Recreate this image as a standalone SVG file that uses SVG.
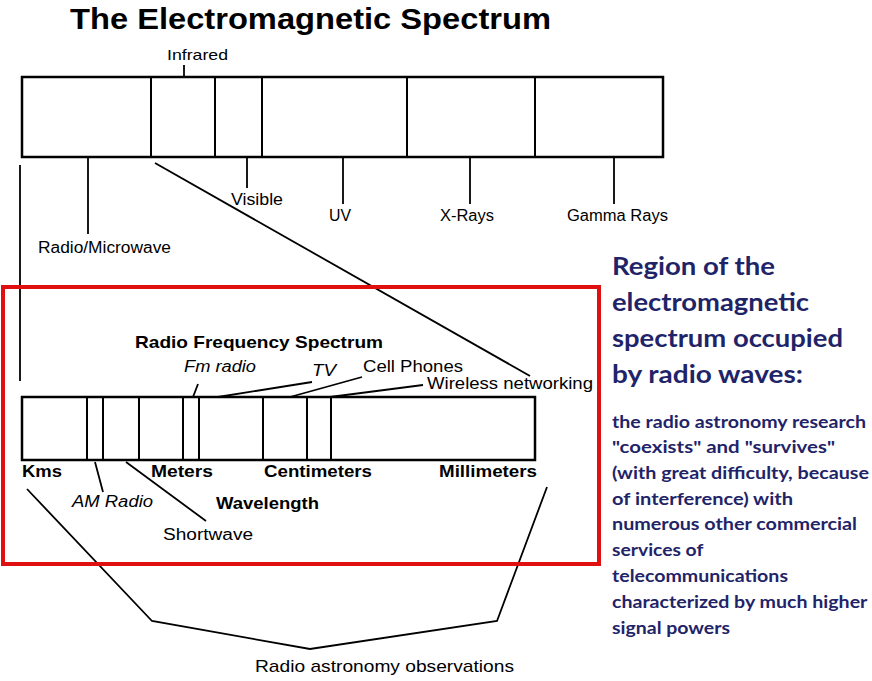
<svg xmlns="http://www.w3.org/2000/svg" width="872" height="681" viewBox="0 0 872 681">
<style>
.t{font-family:"Liberation Sans",Arial,sans-serif;fill:#000}
.b{font-weight:bold}
.i{font-style:italic}
.box{fill:#fff;stroke:#000;stroke-width:2.5}
.ln{fill:none;stroke:#000;stroke-width:1.8}
.dv{stroke:#000;stroke-width:2}
.r{font-family:Lato,"Open Sans",sans-serif;font-weight:bold;fill:#1f2468}
</style>
<rect width="872" height="681" fill="#fff"/>
<text class="t b" x="70" y="29" font-size="30" textLength="481" lengthAdjust="spacingAndGlyphs">The Electromagnetic Spectrum</text>

<g id="em-spectrum">
<rect class="box" x="22" y="77" width="641" height="80"/>
<line class="dv" x1="151" y1="77" x2="151" y2="157"/>
<line class="dv" x1="215" y1="77" x2="215" y2="157"/>
<line class="dv" x1="262" y1="77" x2="262" y2="157"/>
<line class="dv" x1="407" y1="77" x2="407" y2="157"/>
<line class="dv" x1="535" y1="77" x2="535" y2="157"/>
</g>

<g id="labels-top">
<text class="t" x="167" y="60" font-size="15" textLength="61" lengthAdjust="spacingAndGlyphs">Infrared</text>
<text class="t" x="38" y="253" font-size="16" textLength="133" lengthAdjust="spacingAndGlyphs">Radio/Microwave</text>
<text class="t" x="231" y="205" font-size="16" textLength="52" lengthAdjust="spacingAndGlyphs">Visible</text>
<text class="t" x="329" y="221" font-size="16" textLength="22" lengthAdjust="spacingAndGlyphs">UV</text>
<text class="t" x="440" y="221" font-size="16" textLength="54" lengthAdjust="spacingAndGlyphs">X-Rays</text>
<text class="t" x="567" y="221" font-size="16" textLength="101" lengthAdjust="spacingAndGlyphs">Gamma Rays</text>
</g>

<g id="connectors">
<line class="ln" x1="184" y1="65" x2="184" y2="77"/>
<line class="ln" x1="88" y1="157" x2="88" y2="234"/>
<line class="ln" x1="247" y1="157" x2="247" y2="188"/>
<line class="ln" x1="343" y1="157" x2="343" y2="204"/>
<line class="ln" x1="470" y1="157" x2="470" y2="204"/>
<line class="ln" x1="614" y1="157" x2="614" y2="204"/>
<line class="ln" x1="20" y1="165" x2="20" y2="381"/>
<line class="ln" x1="155" y1="163" x2="530" y2="376"/>
<line class="ln" x1="198" y1="384" x2="193" y2="397"/>
<line class="ln" x1="312" y1="382" x2="218" y2="397"/>
<line class="ln" x1="362" y1="377" x2="290" y2="397"/>
<line class="ln" x1="423" y1="385" x2="330" y2="397"/>
<line class="ln" x1="95" y1="462" x2="103" y2="492"/>
<line class="ln" x1="126" y1="462" x2="206" y2="521"/>
<polyline class="ln" points="27,489 152,621 310,649 497,621 547,487"/>
</g>

<g id="radio-spectrum">
<rect class="box" x="22" y="397" width="513" height="63"/>
<line class="dv" x1="87" y1="397" x2="87" y2="460"/>
<line class="dv" x1="103" y1="397" x2="103" y2="460"/>
<line class="dv" x1="139" y1="397" x2="139" y2="460"/>
<line class="dv" x1="183" y1="397" x2="183" y2="460"/>
<line class="dv" x1="199" y1="397" x2="199" y2="460"/>
<line class="dv" x1="263" y1="397" x2="263" y2="460"/>
<line class="dv" x1="307" y1="397" x2="307" y2="460"/>
<line class="dv" x1="331" y1="397" x2="331" y2="460"/>
</g>

<g id="labels-radio">
<text class="t b" x="135" y="348" font-size="17" textLength="248" lengthAdjust="spacingAndGlyphs">Radio Frequency Spectrum</text>
<text class="t i" x="184" y="372" font-size="16" textLength="72" lengthAdjust="spacingAndGlyphs">Fm radio</text>
<text class="t i" x="312" y="376" font-size="16" textLength="24" lengthAdjust="spacingAndGlyphs">TV</text>
<text class="t" x="363" y="372" font-size="16" textLength="100" lengthAdjust="spacingAndGlyphs">Cell Phones</text>
<text class="t" x="427" y="389" font-size="16" textLength="166" lengthAdjust="spacingAndGlyphs">Wireless networking</text>
<text class="t b" x="22" y="477" font-size="16" textLength="40" lengthAdjust="spacingAndGlyphs">Kms</text>
<text class="t b" x="151" y="477" font-size="16" textLength="62" lengthAdjust="spacingAndGlyphs">Meters</text>
<text class="t b" x="264" y="477" font-size="16" textLength="108" lengthAdjust="spacingAndGlyphs">Centimeters</text>
<text class="t b" x="439" y="477" font-size="16" textLength="98" lengthAdjust="spacingAndGlyphs">Millimeters</text>
<text class="t i" x="72" y="507" font-size="16" textLength="81" lengthAdjust="spacingAndGlyphs">AM Radio</text>
<text class="t b" x="216" y="509" font-size="16" textLength="103" lengthAdjust="spacingAndGlyphs">Wavelength</text>
<text class="t" x="163" y="540" font-size="16" textLength="90" lengthAdjust="spacingAndGlyphs">Shortwave</text>
<text class="t" x="255" y="672" font-size="17" textLength="259" lengthAdjust="spacingAndGlyphs">Radio astronomy observations</text>
</g>

<rect id="highlight" x="3" y="287" width="596" height="277" fill="none" stroke="#e01010" stroke-width="4"/>

<g id="note">
<text class="r" font-size="25">
<tspan x="612" y="275" textLength="163" lengthAdjust="spacingAndGlyphs">Region of the</tspan>
<tspan x="612" y="311" textLength="197" lengthAdjust="spacingAndGlyphs">electromagnetic</tspan>
<tspan x="612" y="347" textLength="231" lengthAdjust="spacingAndGlyphs">spectrum occupied</tspan>
<tspan x="612" y="383" textLength="191" lengthAdjust="spacingAndGlyphs">by radio waves:</tspan>
</text>
<text class="r" font-size="17.5">
<tspan x="612" y="428" textLength="254" lengthAdjust="spacingAndGlyphs">the radio astronomy research</tspan>
<tspan x="612" y="453" textLength="223" lengthAdjust="spacingAndGlyphs">"coexists" and "survives"</tspan>
<tspan x="612" y="479" textLength="257" lengthAdjust="spacingAndGlyphs">(with great difficulty, because</tspan>
<tspan x="612" y="505" textLength="181" lengthAdjust="spacingAndGlyphs">of interference) with</tspan>
<tspan x="612" y="530" textLength="245" lengthAdjust="spacingAndGlyphs">numerous other commercial</tspan>
<tspan x="612" y="556" textLength="91" lengthAdjust="spacingAndGlyphs">services of</tspan>
<tspan x="612" y="582" textLength="176" lengthAdjust="spacingAndGlyphs">telecommunications</tspan>
<tspan x="612" y="608" textLength="255" lengthAdjust="spacingAndGlyphs">characterized by much higher</tspan>
<tspan x="612" y="634" textLength="118" lengthAdjust="spacingAndGlyphs">signal powers</tspan>
</text>
</g>
</svg>
